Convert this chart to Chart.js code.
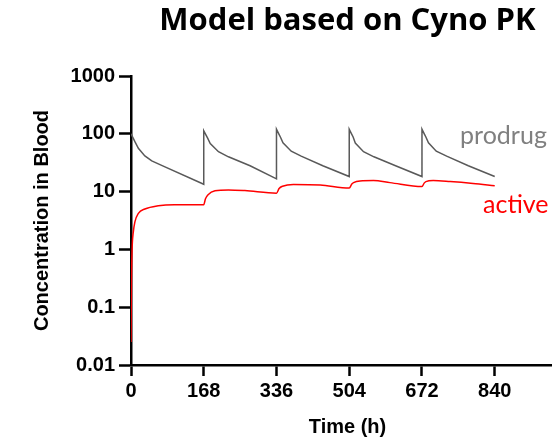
<!DOCTYPE html>
<html>
<head>
<meta charset="utf-8">
<script src="https://cdn.jsdelivr.net/npm/chart.js@4"></script>
<style>
  html, body { margin: 0; padding: 0; overflow: hidden; background: #fff; }
  #wrap { width: 564px; height: 440px; }
</style>
</head>
<body>
<div id="wrap"><canvas id="pkChart"></canvas></div>
<script>
// dosing every 168 h, prodrug and released active compound
const prodrugTime = [0, 5, 9, 17, 32, 48, 72, 168,
  168, 173, 177, 183, 202, 225, 275, 336,
  336, 341, 345, 351, 370, 393, 443, 504,
  504, 509, 513, 518, 537, 561, 611, 672,
  672, 677, 681, 687, 705, 729, 779, 840];
const prodrugConc = [100, 84, 73, 56, 41.5, 34, 28.2, 13.4,
  113, 96, 84, 68, 49, 40, 28, 16.6,
  120, 101, 88, 70, 50, 41, 28, 18.2,
  120, 101, 88, 69, 49, 40, 28, 18.2,
  120, 101, 88, 70, 50, 41, 28, 18.2];

const activeTime = [0, 1, 2.5, 5, 9, 17, 32, 63, 100, 168,
  172, 178, 194, 225, 263, 336,
  342, 350, 375, 437, 504,
  510, 514, 529, 560, 598, 672,
  677, 681, 698, 737, 790, 840];
const activeConc = [0.025, 0.25, 1.0, 1.9, 3.0, 4.2, 5.0, 5.7, 5.95, 5.95,
  7.5, 8.8, 10.3, 10.7, 10.4, 9.4,
  11.3, 12.4, 13.3, 13.0, 11.5,
  13.5, 14.3, 15.3, 15.5, 14.3, 12.2,
  14.0, 14.9, 15.5, 14.9, 13.8, 12.6];

const xTicks = [0, 168, 336, 504, 672, 840];
const yTicks = [0.01, 0.1, 1, 10, 100, 1000];
const yTickLabels = ['0.01', '0.1', '1', '10', '100', '1000'];

const toPoints = (xs, ys) => xs.map((x, i) => ({ x: x, y: ys[i] }));

// series names written beside the curves
const seriesLabels = {
  id: 'seriesLabels',
  afterDatasetsDraw(chart) {
    const { ctx, scales: { x, y } } = chart;
    ctx.save();
    ctx.font = '25px Lato, "Open Sans", sans-serif';
    ctx.textAlign = 'left';
    ctx.textBaseline = 'alphabetic';
    ctx.fillStyle = '#808080';
    ctx.fillText('prodrug', x.getPixelForValue(760), y.getPixelForValue(66));
    ctx.fillStyle = '#ff0000';
    ctx.fillText('active', x.getPixelForValue(813), y.getPixelForValue(4.2));
    ctx.restore();
  }
};

const axisFont = { family: '"Liberation Sans", Arial, sans-serif', size: 20, weight: 'bold' };

new Chart(document.getElementById('pkChart'), {
  type: 'line',
  data: {
    datasets: [
      {
        label: 'prodrug',
        data: toPoints(prodrugTime, prodrugConc),
        borderColor: '#595959',
        borderWidth: 1.5,
        pointRadius: 0,
        tension: 0
      },
      {
        label: 'active',
        data: toPoints(activeTime, activeConc),
        borderColor: '#ff0000',
        borderWidth: 1.5,
        pointRadius: 0,
        cubicInterpolationMode: 'monotone'
      }
    ]
  },
  options: {
    responsive: true,
    maintainAspectRatio: false,
    animation: false,
    layout: { padding: 0 },
    plugins: {
      legend: { display: false },
      tooltip: { enabled: false },
      title: {
        display: true,
        text: 'Model based on Cyno PK',
        fullSize: false,
        color: '#000',
        font: { family: '"Open Sans", Lato, sans-serif', size: 31, weight: 'bold', lineHeight: 1.2 },
        padding: { top: 3, bottom: 35.8 }
      }
    },
    scales: {
      x: {
        type: 'linear',
        min: 0,
        max: 1000,
        afterFit: s => { s.height = 75; },
        afterBuildTicks: s => { s.ticks = xTicks.map(v => ({ value: v })); },
        ticks: { autoSkip: false, maxRotation: 0, color: '#000', font: axisFont, padding: 3 },
        grid: { drawOnChartArea: false, drawTicks: true, tickLength: 11, tickWidth: 2.5, tickColor: '#000' },
        border: { display: true, color: '#000', width: 2.5 },
        title: { display: true, text: 'Time (h)', color: '#000', font: axisFont, padding: { top: 0, bottom: 1 } }
      },
      y: {
        type: 'logarithmic',
        min: 0.01,
        max: 1000,
        afterFit: s => { s.width = 131; },
        afterBuildTicks: s => { s.ticks = yTicks.map(v => ({ value: v })); },
        ticks: {
          autoSkip: false,
          color: '#000',
          font: axisFont,
          padding: 4,
          callback: (v) => yTickLabels[yTicks.indexOf(v)]
        },
        grid: { drawOnChartArea: false, drawTicks: true, tickLength: 12, tickWidth: 2.5, tickColor: '#000' },
        border: { display: true, color: '#000', width: 2.5 },
        title: { display: true, text: 'Concentration in Blood', color: '#000', font: axisFont, padding: { top: 30, bottom: 0 } }
      }
    }
  },
  plugins: [seriesLabels]
});
</script>
</body>
</html>
